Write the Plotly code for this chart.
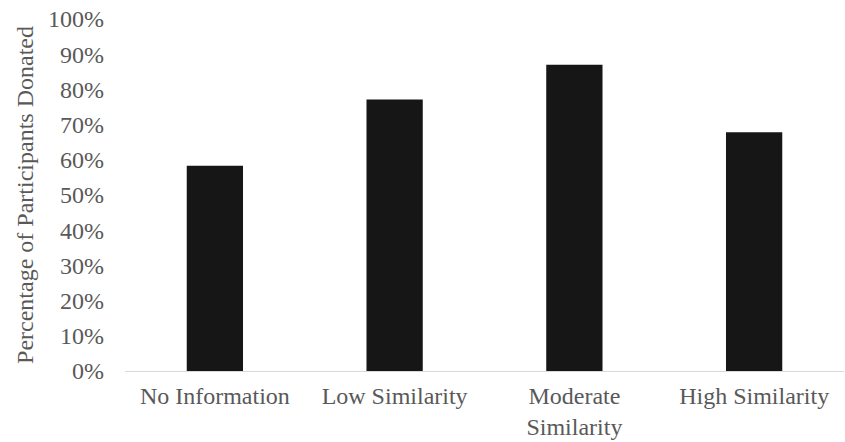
import plotly.graph_objects as go

categories = ["No Information", "Low Similarity", "Moderate<br>Similarity", "High Similarity"]
donated_share = [0.583, 0.771, 0.870, 0.678]
y_tick_values = [i / 10 for i in range(11)]
y_tick_labels = [f"{i * 10}%" for i in range(11)]

text_gray = "#595959"
font_family = "Liberation Serif, Times New Roman, serif"

fig = go.Figure(
    go.Bar(
        x=categories,
        y=donated_share,
        marker=dict(color="#161616", line=dict(width=0)),
    )
)

fig.update_layout(
    width=845,
    height=442,
    margin=dict(l=125, r=1, t=19, b=71),
    paper_bgcolor="white",
    plot_bgcolor="white",
    bargap=0.687,
    showlegend=False,
    font=dict(family=font_family, size=24, color=text_gray),
)

fig.update_xaxes(
    automargin=False,
    showline=True,
    linecolor="#d9d9d9",
    linewidth=1,
    showgrid=False,
    ticks="",
    ticklabelstandoff=3,
    tickfont=dict(family=font_family, size=24, color=text_gray),
)

fig.update_yaxes(
    automargin=False,
    range=[0, 1],
    tickvals=y_tick_values,
    ticktext=y_tick_labels,
    showgrid=False,
    showline=False,
    zeroline=False,
    ticks="",
    ticklen=0,
    ticklabelstandoff=20,
    tickfont=dict(family=font_family, size=24, color=text_gray),
    title=dict(
        text="Percentage of Participants Donated",
        font=dict(family=font_family, size=24, color=text_gray),
        standoff=7,
    ),
)

fig.write_html("out.html")
